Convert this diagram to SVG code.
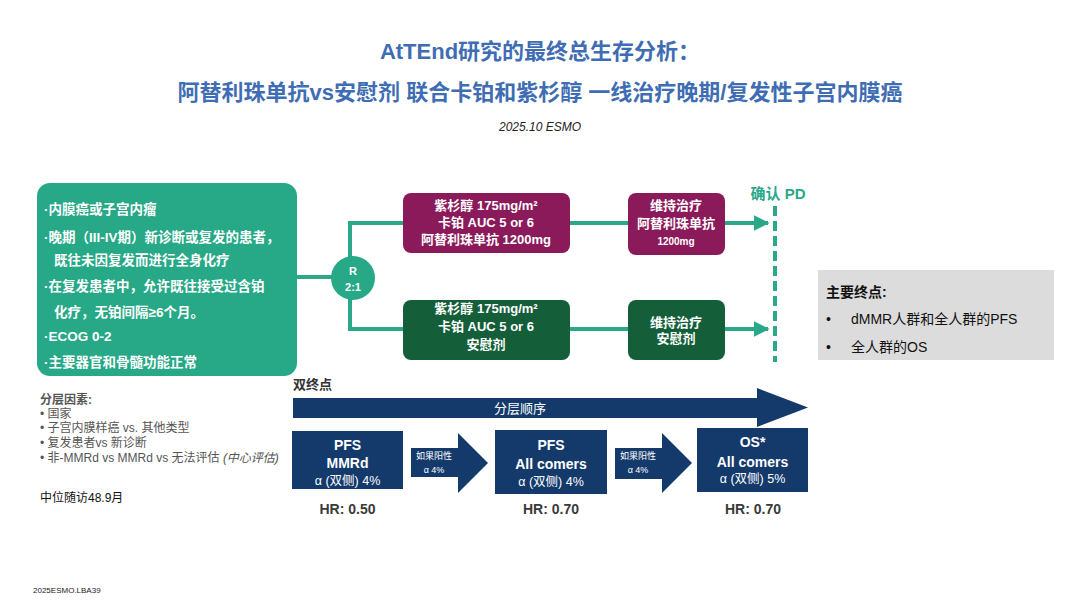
<svg xmlns="http://www.w3.org/2000/svg" width="1080" height="608" viewBox="0 0 1080 608">
<defs>
<style>
text{font-family:"Liberation Sans","Noto Sans CJK SC",sans-serif;}
.title{font-size:22px;font-weight:bold;fill:#3f6db3;text-anchor:middle;}
.w{fill:#fff;font-weight:bold;text-anchor:middle;}
.inc{fill:#fff;font-weight:bold;font-size:13.5px;}
.strat{fill:#555;font-size:12px;}
.conn{stroke:#2aa888;stroke-width:4;fill:none;}
.navy{fill:#133a6b;}
.hr{font-size:14px;font-weight:bold;fill:#3a3a3a;text-anchor:middle;}
.sm{font-size:9px;fill:#fff;text-anchor:middle;}
.al{font-size:12.5px;fill:#fff;text-anchor:middle;}
</style>
<marker id="ah" viewBox="0 0 10 10" refX="9" refY="5" markerWidth="4" markerHeight="4" orient="auto" markerUnits="strokeWidth">
<path d="M0,0 L10,5 L0,10 z" fill="#2aa888"/>
</marker>
</defs>
<rect width="1080" height="608" fill="#fff"/>

<g id="title">
<text class="title" x="540" y="59">AtTEnd研究的最终总生存分析：</text>
<text class="title" x="540" y="100">阿替利珠单抗vs安慰剂 联合卡铂和紫杉醇 一线治疗晚期/复发性子宫内膜癌</text>
<text x="540" y="131" font-size="12" font-style="italic" fill="#222" text-anchor="middle">2025.10 ESMO</text>
</g>

<g id="connectors">
<line class="conn" x1="297" y1="277" x2="333" y2="277"/>
<polyline class="conn" points="350,258 350,223 405,223"/>
<polyline class="conn" points="350,298 350,329 405,329"/>
<line class="conn" x1="570" y1="223" x2="630" y2="223"/>
<line class="conn" x1="570" y1="329" x2="630" y2="329"/>
<line class="conn" x1="725" y1="223" x2="768" y2="223" marker-end="url(#ah)"/>
<line class="conn" x1="725" y1="329" x2="768" y2="329" marker-end="url(#ah)"/>
<line x1="775" y1="206" x2="775" y2="362" stroke="#2aa888" stroke-width="4" stroke-dasharray="10,5"/>
</g>

<g id="inclusion">
<rect x="37" y="183" width="260" height="193" rx="13" fill="#27a886"/>
<text class="inc" x="44" y="214">·内膜癌或子宫内瘤</text>
<text class="inc" x="44" y="242">·晚期（III-IV期）新诊断或复发的患者，</text>
<text class="inc" x="54" y="265">既往未因复发而进行全身化疗</text>
<text class="inc" x="44" y="291">·在复发患者中，允许既往接受过含铂</text>
<text class="inc" x="54" y="317">化疗，无铂间隔≥6个月。</text>
<text class="inc" x="44" y="341">·ECOG 0-2</text>
<text class="inc" x="44" y="367">·主要器官和骨髓功能正常</text>
</g>

<g id="randomize">
<circle cx="353" cy="278" r="22" fill="#27a886"/>
<text class="w" x="353" y="275" font-size="11" font-weight="normal">R</text>
<text class="w" x="353" y="291" font-size="11">2:1</text>
</g>

<g id="arm1-chemo">
<rect x="403" y="193" width="167" height="60" rx="8" fill="#8b1a5b"/>
<text class="w" x="486" y="210" font-size="13">紫杉醇 175mg/m²</text>
<text class="w" x="486" y="227" font-size="13">卡铂 AUC 5 or 6</text>
<text class="w" x="486" y="244" font-size="13">阿替利珠单抗 1200mg</text>
</g>
<g id="arm1-maint">
<rect x="628" y="193" width="97" height="62" rx="8" fill="#8b1a5b"/>
<text class="w" x="676" y="210" font-size="13">维持治疗</text>
<text class="w" x="676" y="228" font-size="13">阿替利珠单抗</text>
<text class="w" x="676" y="245" font-size="10">1200mg</text>
</g>
<g id="arm2-chemo">
<rect x="403" y="300" width="167" height="60" rx="8" fill="#145e3a"/>
<text class="w" x="486" y="313" font-size="13">紫杉醇 175mg/m²</text>
<text class="w" x="486" y="331" font-size="13">卡铂 AUC 5 or 6</text>
<text class="w" x="486" y="349" font-size="13">安慰剂</text>
</g>
<g id="arm2-maint">
<rect x="628" y="300" width="97" height="60" rx="8" fill="#145e3a"/>
<text class="w" x="676" y="327" font-size="13">维持治疗</text>
<text class="w" x="676" y="343" font-size="13">安慰剂</text>
</g>
<g id="pd">
<text x="778" y="199" font-size="15" font-weight="bold" fill="#2aa888" text-anchor="middle">确认 PD</text>
</g>

<g id="endpoints">
<rect x="818" y="270" width="236" height="90" fill="#dcdcdc"/>
<text x="826" y="297" font-size="14" font-weight="bold" fill="#111">主要终点:</text>
<text x="826" y="324" font-size="14" fill="#111">•</text>
<text x="851" y="324" font-size="14" fill="#111">dMMR人群和全人群的PFS</text>
<text x="826" y="352" font-size="14" fill="#111">•</text>
<text x="851" y="352" font-size="14" fill="#111">全人群的OS</text>
</g>

<g id="strata">
<text class="strat" x="40" y="404" font-weight="bold">分层因素:</text>
<text class="strat" x="40" y="418">• 国家</text>
<text class="strat" x="40" y="432">• 子宫内膜样癌 vs. 其他类型</text>
<text class="strat" x="40" y="447">• 复发患者vs 新诊断</text>
<text class="strat" x="40" y="462">• 非-MMRd vs MMRd vs 无法评估 <tspan font-style="italic">(中心评估)</tspan></text>
<text x="40" y="502" font-size="12" fill="#111">中位随访48.9月</text>
</g>

<g id="hierarchy">
<text x="293" y="389" font-size="13" font-weight="bold" fill="#333">双终点</text>
<path class="navy" d="M293,398 H757 V388 L808,407.5 L757,427 V418 H293 Z"/>
<text x="520" y="413" font-size="13" fill="#fff" text-anchor="middle">分层顺序</text>
</g>

<g id="box-pfs-mmrd">
<rect class="navy" x="292" y="431" width="111" height="58"/>
<text class="w" x="347.5" y="450" font-size="14">PFS</text>
<text class="w" x="347.5" y="468" font-size="14">MMRd</text>
<text class="al" x="347.5" y="485">α (双侧) 4%</text>
</g>
<g id="arrow1">
<path class="navy" d="M411,448 H458 V433 L488,463 L458,493 V477 H411 Z"/>
<text class="sm" x="434" y="459">如果阳性</text>
<text class="sm" x="434" y="473">α 4%</text>
</g>
<g id="box-pfs-all">
<rect class="navy" x="495" y="430" width="112" height="64"/>
<text class="w" x="551" y="450" font-size="14">PFS</text>
<text class="w" x="551" y="469" font-size="14">All comers</text>
<text class="al" x="551" y="486">α (双侧) 4%</text>
</g>
<g id="arrow2">
<path class="navy" d="M615,448 H662 V433 L692,463 L662,493 V479 H615 Z"/>
<text class="sm" x="638" y="459">如果阳性</text>
<text class="sm" x="638" y="473">α 4%</text>
</g>
<g id="box-os">
<rect class="navy" x="697" y="428" width="111" height="64"/>
<text class="w" x="752.5" y="447" font-size="14">OS*</text>
<text class="w" x="752.5" y="467" font-size="14">All comers</text>
<text class="al" x="752.5" y="483">α (双侧) 5%</text>
</g>
<g id="hr">
<text class="hr" x="347.5" y="514">HR: 0.50</text>
<text class="hr" x="551" y="514">HR: 0.70</text>
<text class="hr" x="753" y="514">HR: 0.70</text>
</g>

<text x="33" y="593" font-size="8" fill="#222">2025ESMO.LBA39</text>
</svg>
